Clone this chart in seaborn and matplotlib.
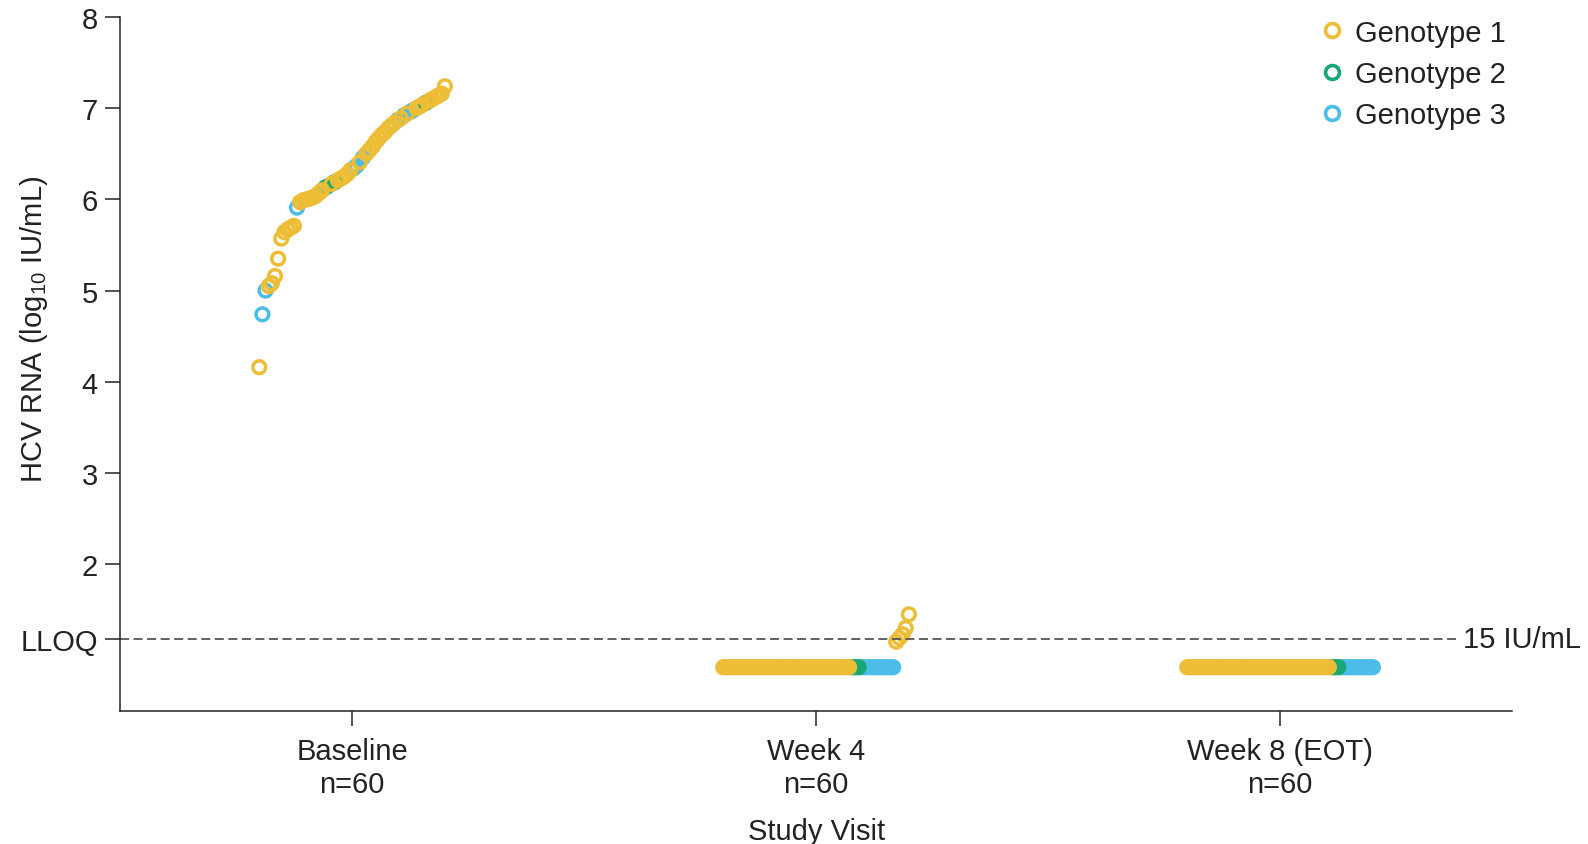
import numpy as np
import pandas as pd
import matplotlib
matplotlib.use("Agg")
import matplotlib.pyplot as plt
from matplotlib.lines import Line2D
import seaborn as sns

# ---- data -------------------------------------------------------------
visits = ["Baseline", "Week 4", "Week 8 (EOT)"]
n_per_visit = [60, 60, 60]
genotype_labels = ["Genotype 1", "Genotype 2", "Genotype 3"]
genotype_colors = ["#ECBD35", "#17A873", "#4CBCE9"]

lloq_iu = 15                 # lower limit of quantification, IU/mL
tnd_plot_level = 0.87        # plotting position for target-not-detected results

# Baseline HCV RNA (log10 IU/mL), ordered low to high, with genotype per patient
baseline_log = [
    4.16, 4.74, 5.00, 5.05, 5.08, 5.16, 5.35, 5.57, 5.64, 5.67,
    5.69, 5.71, 5.91, 5.97, 5.99, 6.00, 6.01, 6.02, 6.04, 6.07,
    6.10, 6.13, 6.15, 6.17, 6.19, 6.21, 6.23, 6.25, 6.28, 6.32,
    6.34, 6.37, 6.41, 6.46, 6.50, 6.54, 6.58, 6.63, 6.67, 6.71,
    6.74, 6.78, 6.81, 6.84, 6.87, 6.89, 6.92, 6.94, 6.96, 6.98,
    7.00, 7.02, 7.04, 7.06, 7.08, 7.10, 7.12, 7.14, 7.16, 7.24,
]
baseline_gt = [
    1, 3, 3, 1, 1, 1, 1, 1, 1, 1,
    1, 1, 3, 1, 1, 1, 1, 1, 1, 1,
    1, 2, 3, 1, 2, 1, 1, 1, 1, 1,
    3, 3, 1, 3, 1, 1, 1, 1, 1, 1,
    1, 1, 1, 1, 3, 1, 3, 1, 3, 3,
    1, 1, 1, 2, 1, 1, 1, 1, 1, 1,
]

# Week 4: quantifiable results (all genotype 1) and target-not-detected counts
week4_quant_log = [1.15, 1.19, 1.23, 1.30, 1.45]
week4_quant_gt = [1, 1, 1, 1, 1]
week4_tnd_counts = [41, 3, 11]     # genotype 1, 2, 3

# Week 8 (end of treatment): all target not detected
week8_tnd_counts = [46, 3, 11]


# ---- assemble long table ---------------------------------------------
def visit_rows(values, gts, visit_idx):
    n = len(values)
    offs = np.linspace(-0.2, 0.2, n)
    return [dict(visit=visit_idx, x=visit_idx + o, y=v,
                 Genotype=genotype_labels[g - 1])
            for o, v, g in zip(offs, values, gts)]


def tnd_list(counts):
    gts = []
    for g, c in enumerate(counts, start=1):
        gts += [g] * c
    return [tnd_plot_level] * len(gts), gts


rows = []
rows += visit_rows(baseline_log, baseline_gt, 0)
w4_v, w4_g = tnd_list(week4_tnd_counts)
rows += visit_rows(w4_v + week4_quant_log, w4_g + week4_quant_gt, 1)
w8_v, w8_g = tnd_list(week8_tnd_counts)
rows += visit_rows(w8_v, w8_g, 2)
df = pd.DataFrame(rows)

# genotype 1 drawn last so it sits on top
df["order"] = df["Genotype"].map({genotype_labels[0]: 2,
                                  genotype_labels[1]: 1,
                                  genotype_labels[2]: 0})
df = df.sort_values("order", kind="stable")

# ---- style ------------------------------------------------------------
sns.set_style("ticks")
plt.rcParams["font.family"] = ["Liberation Sans", "DejaVu Sans"]
plt.rcParams["mathtext.default"] = "regular"
text_color = "#222222"
fs = 21
marker_lw = 2.5

fig = plt.figure(figsize=(15.88, 8.45), dpi=100)
ax = fig.add_axes([0.0756, 0.1574, 0.8766, 0.8213])

sns.scatterplot(data=df, x="x", y="y", hue="Genotype",
                hue_order=genotype_labels, palette=genotype_colors,
                s=84, linewidth=marker_lw, marker="o", legend=False, ax=ax)

# open circles: move the hue colour onto the edge
for coll in ax.collections:
    fc = coll.get_facecolors()
    coll.set_edgecolors(fc)
    coll.set_facecolors("none")
    coll.set_linewidths(marker_lw)

lloq_log = np.log10(lloq_iu)
ax.plot([-0.5, 2.38], [lloq_log, lloq_log], ls=(0, (5, 2.5)),
        color="#555555", lw=1.3, zorder=1)
ax.text(2.395, lloq_log, f"{lloq_iu} IU/mL", fontsize=fs,
        color=text_color, va="center", ha="left", clip_on=False)

ax.set_xlim(-0.5, 2.5)
ax.set_ylim(0.39, 8)
ax.set_xticks(range(len(visits)))
ax.set_xticklabels([f"{v}\nn={n}" for v, n in zip(visits, n_per_visit)])
ax.set_yticks([lloq_log] + list(range(2, 9)))
ax.set_yticklabels(["LLOQ"] + [str(v) for v in range(2, 9)])

ax.tick_params(axis="both", labelsize=fs, colors=text_color,
               length=11, width=1.1, direction="out")
ax.tick_params(axis="y", pad=5)
ax.tick_params(axis="x", pad=8)
for t in ax.get_xticklabels() + ax.get_yticklabels():
    t.set_color(text_color)

sns.despine(ax=ax)
for sp in ("left", "bottom"):
    ax.spines[sp].set_linewidth(1.1)
    ax.spines[sp].set_color("#222222")

ax.set_xlabel("Study Visit", fontsize=fs, color=text_color, labelpad=14)
ax.set_ylabel(r"HCV RNA (log$_{10}$ IU/mL)", fontsize=fs, color=text_color)
ax.yaxis.set_label_coords(-0.050, 0.552)

handles = [Line2D([], [], marker="o", linestyle="", markerfacecolor="none",
                  markeredgecolor=c, markersize=10, markeredgewidth=2.6)
           for c in genotype_colors]
ax.legend(handles, genotype_labels, loc="upper right",
          bbox_to_anchor=(1.0, 1.006), frameon=False, fontsize=fs,
          labelcolor=text_color, handletextpad=0.3, labelspacing=0.45,
          borderpad=0.0, handlelength=1.0, borderaxespad=0.2)

fig.savefig("out.png", dpi=100)
